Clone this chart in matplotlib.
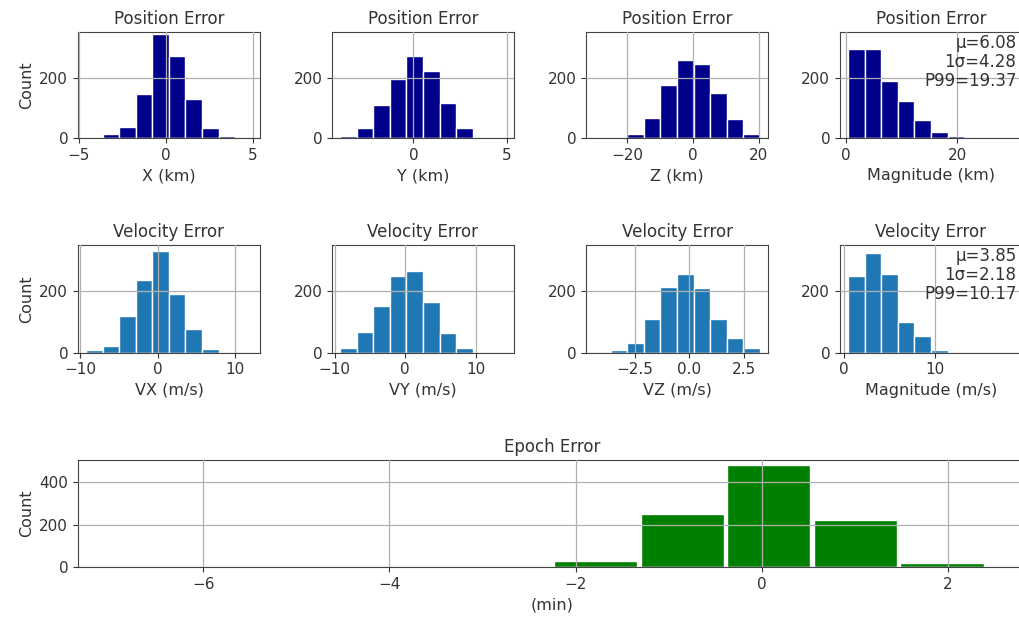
import numpy as np
import matplotlib
matplotlib.use("Agg")
import matplotlib.pyplot as plt

plt.rcParams['font.size'] = 11.5
plt.rcParams['xtick.labelsize'] = 11
plt.rcParams['ytick.labelsize'] = 11
plt.rcParams['text.color'] = '#333333'
plt.rcParams['axes.labelcolor'] = '#333333'
plt.rcParams['xtick.color'] = '#333333'
plt.rcParams['ytick.color'] = '#333333'
plt.rcParams['axes.edgecolor'] = '#444444'

# histogram counts (10 bins per panel)
pos_x_range = (-4.57, 4.93)
pos_x_counts = [3, 12, 38, 147, 344, 271, 129, 34, 8, 2]
pos_y_range = (-3.93, 4.95)
pos_y_counts = [7, 33, 109, 195, 271, 222, 116, 33, 5, 1]
pos_z_range = (-30.1, 20.3)
pos_z_counts = [1, 3, 12, 66, 176, 258, 246, 149, 62, 12]
pos_mag_range = (0.4, 30.2)
pos_mag_counts = [295, 293, 189, 123, 59, 21, 8, 2, 0, 1]

vel_x_range = (-9.2, 12.1)
vel_x_counts = [8, 22, 119, 236, 330, 192, 76, 12, 0, 1]
vel_y_range = (-9.2, 14.2)
vel_y_counts = [16, 68, 151, 250, 265, 165, 63, 16, 2, 1]
vel_z_range = (-4.33, 3.2)
vel_z_counts = [3, 8, 30, 109, 212, 257, 210, 108, 48, 14]
vel_mag_range = (0.44, 18.74)
vel_mag_counts = [249, 324, 257, 101, 54, 8, 2, 0, 0, 1]

epoch_range = (-6.9, 2.4)
epoch_counts = [1, 0, 0, 0, 0, 30, 252, 481, 221, 17]

pos_stats = "μ=6.08\n1σ=4.28\nP99=19.37"
vel_stats = "μ=3.85\n1σ=2.18\nP99=10.17"

pos_labels = ["X (km)", "Y (km)", "Z (km)", "Magnitude (km)"]
vel_labels = ["VX (m/s)", "VY (m/s)", "VZ (m/s)", "Magnitude (m/s)"]

pos_xticks = [[-5, 0, 5], [-5, 0, 5], [-20, 0, 20], [0, 20]]
vel_xticks = [[-10, 0, 10], [-10, 0, 10], [-2.5, 0.0, 2.5], [0, 10, 20]]
epoch_xticks = [-6, -4, -2, 0, 2]


def draw_hist(ax, rng, counts, color, xticks, rwidth=None):
    edges = np.linspace(rng[0], rng[1], len(counts) + 1)
    centers = (edges[:-1] + edges[1:]) / 2
    ax.hist(centers, bins=edges, weights=counts, color=color,
            edgecolor='white', linewidth=1.0, rwidth=rwidth)
    lim = ax.get_xlim()
    ax.set_xticks(xticks)
    ax.set_xlim(lim)
    ax.grid(True, color='#b0b0b0', linewidth=0.9)
    ax.set_axisbelow(False)


fig = plt.figure(figsize=(10.19, 6.22), dpi=100)

lefts = [0.0765, 0.3258, 0.5751, 0.8243]
w = 0.1786

pos_data = [(pos_x_range, pos_x_counts), (pos_y_range, pos_y_counts),
            (pos_z_range, pos_z_counts), (pos_mag_range, pos_mag_counts)]
vel_data = [(vel_x_range, vel_x_counts), (vel_y_range, vel_y_counts),
            (vel_z_range, vel_z_counts), (vel_mag_range, vel_mag_counts)]

for i in range(4):
    ax = fig.add_axes([lefts[i], 0.778, w, 0.1704])
    draw_hist(ax, pos_data[i][0], pos_data[i][1], 'darkblue', pos_xticks[i])
    ax.set_ylim(0, 350)
    ax.set_yticks([0, 200])
    ax.set_title("Position Error", fontsize=12)
    ax.set_xlabel(pos_labels[i])
    if i == 0:
        ax.set_ylabel("Count")
    if i == 3:
        ax.text(0.97, 0.98, pos_stats, transform=ax.transAxes,
                ha='right', va='top', fontsize=12, linespacing=1.05)

for i in range(4):
    ax = fig.add_axes([lefts[i], 0.433, w, 0.173])
    draw_hist(ax, vel_data[i][0], vel_data[i][1], '#1f77b4', vel_xticks[i])
    ax.set_ylim(0, 350)
    ax.set_yticks([0, 200])
    ax.set_title("Velocity Error", fontsize=12)
    ax.set_xlabel(vel_labels[i])
    if i == 0:
        ax.set_ylabel("Count")
    if i == 3:
        ax.text(0.97, 0.98, vel_stats, transform=ax.transAxes,
                ha='right', va='top', fontsize=12, linespacing=1.05)

ax = fig.add_axes([0.0765, 0.0884, 0.931, 0.172])
draw_hist(ax, epoch_range, epoch_counts, 'green', epoch_xticks, rwidth=0.96)
ax.set_yticks([0, 200, 400])
ax.set_title("Epoch Error", fontsize=12)
ax.set_xlabel("(min)")
ax.set_ylabel("Count")

fig.savefig("out.png", dpi=100)
